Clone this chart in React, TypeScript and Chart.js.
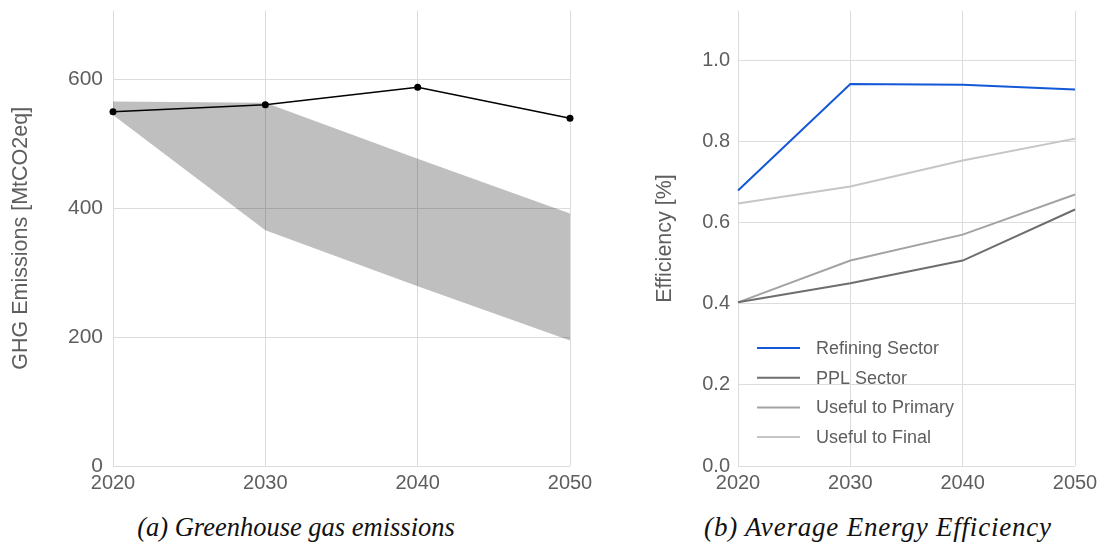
import React, { useEffect, useRef } from 'react';
import { Chart, registerables } from 'chart.js';
Chart.register(...registerables);

const years = ['2020', '2030', '2040', '2050'];
const ghgEmissions = [550, 561, 588, 540];
const ghgBandUpper = [566, 564, 477, 392];
const ghgBandLower = [545, 366, 279, 195];
const ghgTicks = [0, 200, 400, 600];

const refiningSector = [0.68, 0.943, 0.941, 0.929];
const pplSector = [0.404, 0.451, 0.507, 0.633];
const usefulToPrimary = [0.404, 0.507, 0.571, 0.67];
const usefulToFinal = [0.648, 0.69, 0.754, 0.808];
const effTicks = [0, 0.2, 0.4, 0.6, 0.8, 1.0];
const effLabels = ['Refining Sector', 'PPL Sector', 'Useful to Primary', 'Useful to Final'];
const effColors = ['#1358d6', '#6e6e6e', '#a3a3a3', '#c6c6c6'];

const FONT = "'Liberation Sans', Arial, sans-serif";
const TICK_COLOR = '#5e5e5e';
const GRID = '#dcdcdc';

function GhgChart() {
  const ref = useRef<HTMLCanvasElement | null>(null);
  useEffect(() => {
    const chart = new Chart(ref.current!, {
      type: 'line',
      data: {
        labels: years,
        datasets: [
          {
            label: 'GHG',
            data: ghgEmissions,
            borderColor: '#000',
            backgroundColor: '#000',
            borderWidth: 1.5,
            pointRadius: 3.5,
            pointBackgroundColor: '#000',
            pointBorderWidth: 0,
            tension: 0,
            fill: false,
          },
          {
            label: 'lower',
            data: ghgBandLower,
            borderWidth: 0,
            borderColor: 'rgba(0,0,0,0)',
            pointRadius: 0,
            fill: false,
            tension: 0,
          },
          {
            label: 'upper',
            data: ghgBandUpper,
            borderWidth: 0,
            borderColor: 'rgba(0,0,0,0)',
            backgroundColor: 'rgba(0,0,0,0.25)',
            pointRadius: 0,
            fill: 1,
            tension: 0,
          },
        ],
      },
      options: {
        animation: false,
        responsive: false,
        layout: { padding: { top: 10, right: 35, left: 0, bottom: 0 } },
        plugins: { legend: { display: false }, tooltip: { enabled: false } },
        scales: {
          x: {
            type: 'category',
            offset: false,
            grid: { color: GRID, drawTicks: false },
            border: { display: false },
            ticks: { color: TICK_COLOR, font: { family: FONT, size: 20 }, padding: 5, maxRotation: 0 },
            afterFit: (s: any) => { s.height = 34; },
          },
          y: {
            type: 'linear',
            min: 0,
            max: 707,
            grid: { color: GRID, drawTicks: false },
            border: { display: false },
            afterBuildTicks: (s: any) => { s.ticks = ghgTicks.map((v) => ({ value: v })); },
            ticks: { color: TICK_COLOR, font: { family: FONT, size: 21 }, padding: 10, callback: (v: any) => String(v) },
            title: {
              display: true,
              text: 'GHG Emissions [MtCO2eq]',
              color: TICK_COLOR,
              font: { family: FONT, size: 21.5 },
              padding: { top: 8, bottom: 0 },
            },
            afterFit: (s: any) => { s.width = 113; },
          },
        },
      },
    });
    return () => chart.destroy();
  }, []);
  return <canvas ref={ref} width={605} height={512} style={{ position: 'absolute', left: 0, top: -12 }} />;
}

const legendPlugin = {
  id: 'innerLegend',
  afterDatasetsDraw(chart: any) {
    const { ctx, chartArea } = chart;
    ctx.save();
    chart.data.datasets.forEach((ds: any, i: number) => {
      const y = 357 + i * 29.7;
      const x0 = chartArea.left + 19;
      ctx.strokeStyle = ds.borderColor;
      ctx.lineWidth = 2;
      ctx.beginPath();
      ctx.moveTo(x0, y);
      ctx.lineTo(x0 + 43, y);
      ctx.stroke();
      ctx.fillStyle = TICK_COLOR;
      ctx.font = `18px ${FONT}`;
      ctx.textBaseline = 'middle';
      ctx.textAlign = 'left';
      ctx.fillText(ds.label, x0 + 59, y + 1);
    });
    ctx.restore();
  },
};

function EffChart() {
  const ref = useRef<HTMLCanvasElement | null>(null);
  useEffect(() => {
    const series = [refiningSector, pplSector, usefulToPrimary, usefulToFinal];
    const chart = new Chart(ref.current!, {
      type: 'line',
      data: {
        labels: years,
        datasets: series.map((d, i) => ({
          label: effLabels[i],
          data: d,
          borderColor: effColors[i],
          backgroundColor: effColors[i],
          borderWidth: 2,
          pointRadius: 0,
          tension: 0,
          fill: false,
        })),
      },
      options: {
        animation: false,
        responsive: false,
        layout: { padding: { top: 10, right: 30, left: 0, bottom: 0 } },
        plugins: { legend: { display: false }, tooltip: { enabled: false } },
        scales: {
          x: {
            type: 'category',
            offset: false,
            grid: { color: GRID, drawTicks: false },
            border: { display: false },
            ticks: { color: TICK_COLOR, font: { family: FONT, size: 20 }, padding: 5, maxRotation: 0 },
            afterFit: (s: any) => { s.height = 34; },
          },
          y: {
            type: 'linear',
            min: 0,
            max: 1.123,
            grid: { color: GRID, drawTicks: false },
            border: { display: false },
            afterBuildTicks: (s: any) => { s.ticks = effTicks.map((v) => ({ value: v })); },
            ticks: { color: TICK_COLOR, font: { family: FONT, size: 20 }, padding: 8, callback: (v: any) => Number(v).toFixed(1) },
            title: {
              display: true,
              text: 'Efficiency [%]',
              color: TICK_COLOR,
              font: { family: FONT, size: 21.5 },
              padding: { top: 12, bottom: 0 },
            },
            afterFit: (s: any) => { s.width = 98; },
          },
        },
      },
      plugins: [legendPlugin],
    });
    return () => chart.destroy();
  }, []);
  return <canvas ref={ref} width={465} height={509} style={{ position: 'absolute', left: 640, top: -9 }} />;
}

const captionStyle: React.CSSProperties = {
  position: 'absolute',
  top: 512,
  fontFamily: "'Liberation Serif', 'DejaVu Serif', serif",
  fontStyle: 'italic',
  color: '#111',
  textAlign: 'center',
  whiteSpace: 'nowrap',
  width: 500,
  lineHeight: '30px',
};

export default function App() {
  return (
    <div style={{ position: 'absolute', left: 0, top: 0, width: 1105, height: 547, background: '#fff', overflow: 'hidden' }}>
      <GhgChart />
      <EffChart />
      <div style={{ ...captionStyle, left: 296 - 250, fontSize: 26.5 }}>(a) Greenhouse gas emissions</div>
      <div style={{ ...captionStyle, left: 878 - 250, fontSize: 27, letterSpacing: '0.8px' }}>(b) Average Energy Efficiency</div>
    </div>
  );
}
